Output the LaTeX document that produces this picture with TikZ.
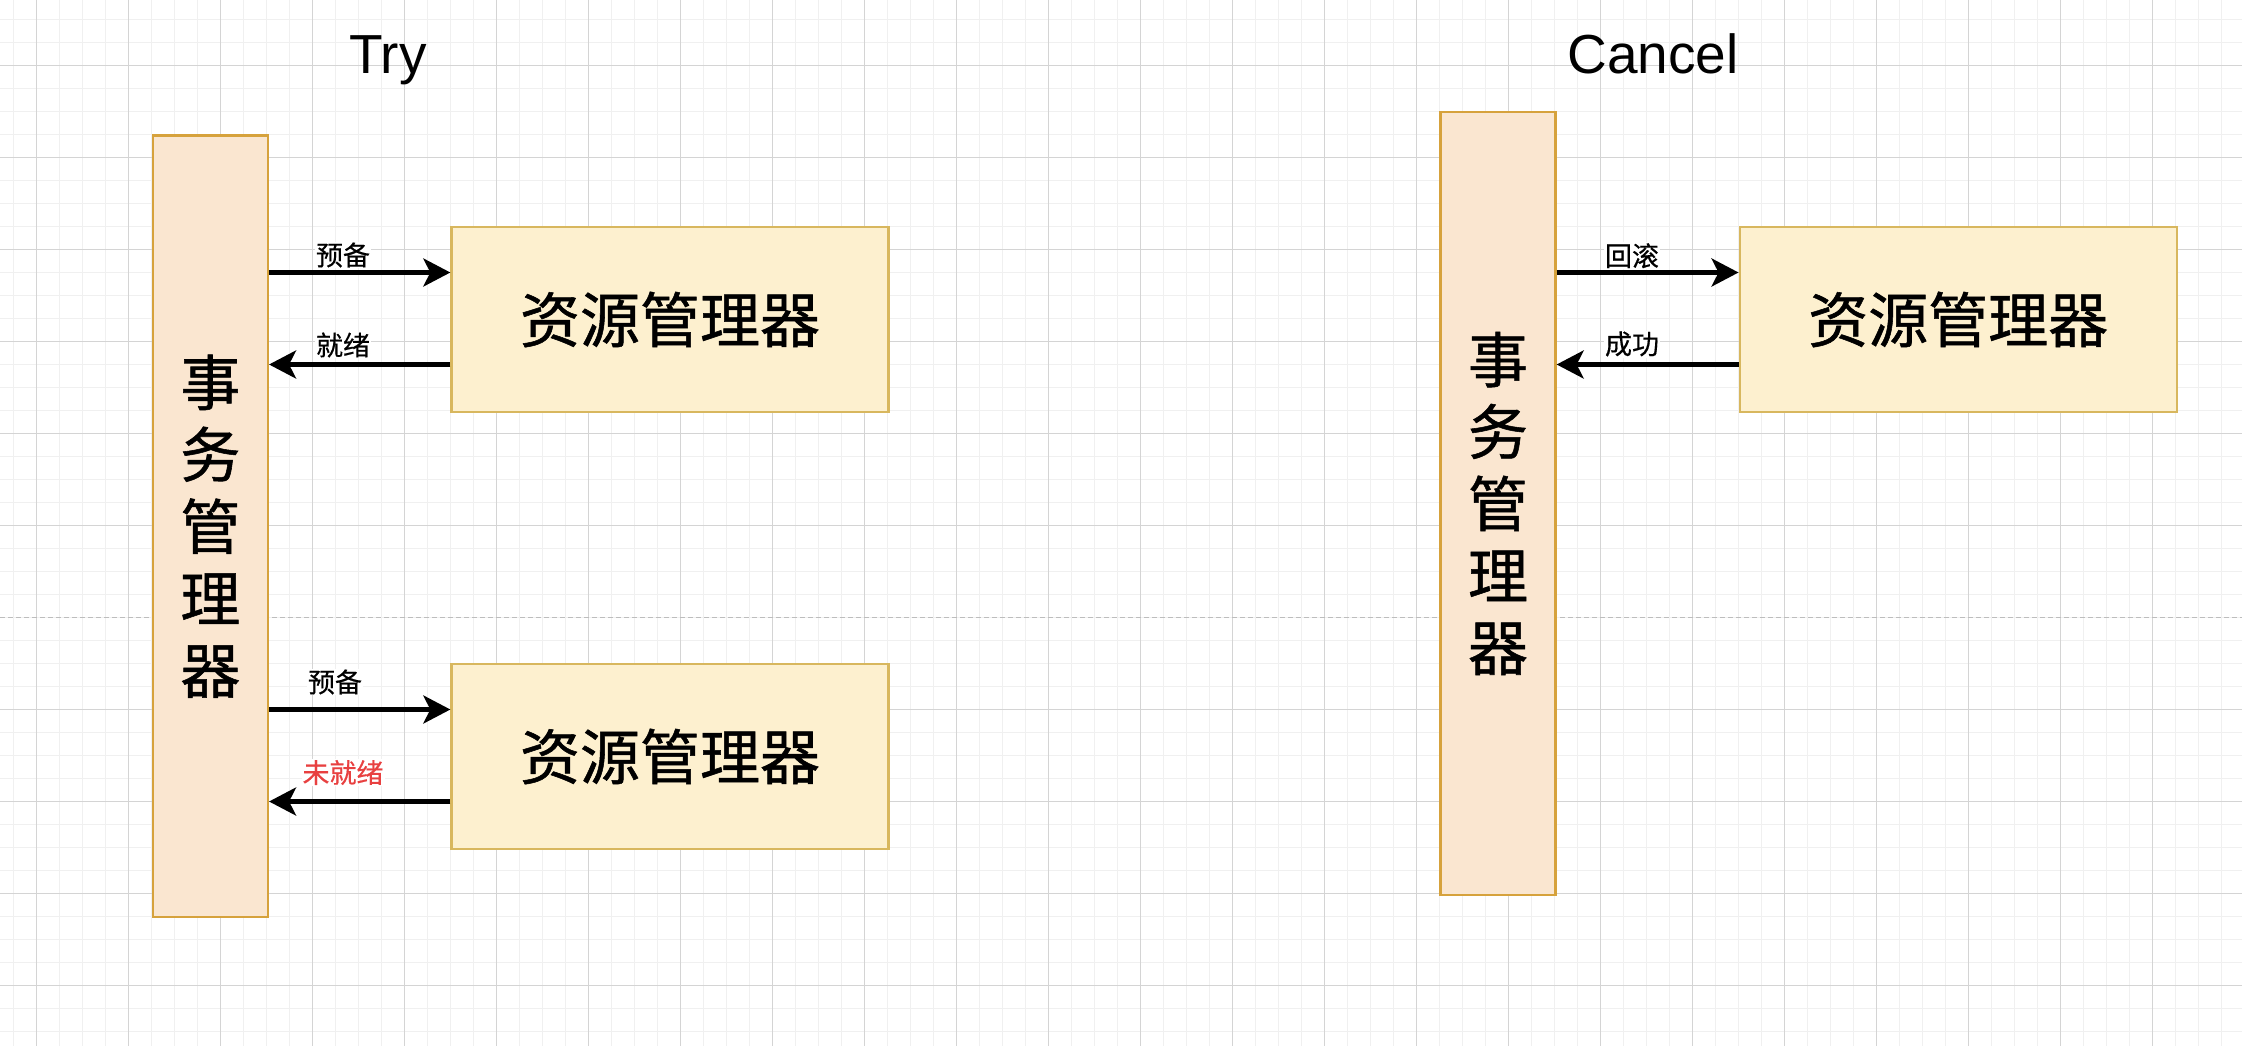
\documentclass[tikz,border=0pt]{standalone}
\usepackage{fontspec}
\setmainfont{Liberation Sans}
\newfontfamily\cjk{Noto Sans CJK SC}[FakeBold=0.9]
\newfontfamily\cjklab{Noto Sans CJK SC}[FakeBold=0.5]
\usetikzlibrary{arrows.meta,calc}
\definecolor{gridminor}{HTML}{F0F0F0}
\definecolor{gridmajor}{HTML}{D4D4D4}
\definecolor{pagebreak}{HTML}{BDBDBD}
\definecolor{tmfill}{HTML}{FAE6D0}
\definecolor{tmdraw}{HTML}{D6A23C}
\definecolor{rmfill}{HTML}{FDF0CF}
\definecolor{rmdraw}{HTML}{D8B75E}
\definecolor{labred}{HTML}{E84040}
\tikzset{
  tmbox/.style={draw=tmdraw, fill=tmfill, line width=2.3pt, inner sep=0pt,
    minimum width=115pt, align=center, font={\cjk\fontsize{60}{72}\selectfont}},
  rmbox/.style={draw=rmdraw, fill=rmfill, line width=2.3pt, inner sep=0pt,
    minimum width=437pt, minimum height=184.4pt, font={\cjk\fontsize{60}{72}\selectfont}},
  arr/.style={line width=4.5pt, -{Stealth[length=27pt,width=28pt,inset=7pt]}},
  lab/.style={font={\cjklab\fontsize{27}{32}\selectfont}, fill=white, inner sep=1pt},
  title/.style={font={\fontsize{55}{66}\selectfont}, anchor=base, inner sep=0pt}
}
\begin{document}
\begin{tikzpicture}[x=1pt,y=-1pt]
\useasboundingbox (0,0) rectangle (2242,1046);
\fill[white] (0,0) rectangle (2242,1046);
% minor grid
\foreach \i in {-1,...,95} \draw[gridminor, line width=1.4pt] (36.2+23*\i,0) -- (36.2+23*\i,1046);
\foreach \j in {-2,...,42} \draw[gridminor, line width=1.4pt] (0,65.3+23*\j) -- (2242,65.3+23*\j);
% major grid
\foreach \i in {0,...,23} \draw[gridmajor, line width=1.3pt] (36.2+92*\i,0) -- (36.2+92*\i,1046);
\foreach \j in {0,...,5,7,8,9,10} \draw[gridmajor, line width=1.3pt] (0,65.3+92*\j) -- (2242,65.3+92*\j);
% page break
\draw[pagebreak, line width=1.3pt, dash pattern=on 5pt off 3pt] (0,617.3) -- (2242,617.3);

% titles
\node[title] (ttry) at (388,74) {Try};
\node[title] (tcancel) at (1653,74) {Cancel};

% boxes
\node[tmbox, minimum height=781.5pt] (tm1) at (210.4,526.3) {事\\务\\管\\理\\器};
\node[rmbox] (rm1) at (670,319.5) {资源管理器};
\node[rmbox] (rm2) at (670,756.5) {资源管理器};
\node[tmbox, minimum height=783pt] (tm2) at (1498,503.5) {事\\务\\管\\理\\器};
\node[rmbox] (rm3) at (1958.2,319.5) {资源管理器};

% labels
\node[lab] (l1) at (343,255) {预备};
\node[lab] (l2) at (343,345) {就绪};
\node[lab] (l3) at (335,682) {预备};
\node[lab, text=labred] (l4) at (343,772.5) {未就绪};
\node[lab] (l5) at (1632,255.7) {回滚};
\node[lab] (l6) at (1632,344) {成功};

% connector anchor points
\coordinate (a1) at ($(rm1.west)+(0,-47)$);
\coordinate (a2) at ($(rm1.west)+(0,45)$);
\coordinate (a3) at ($(rm2.west)+(0,-47)$);
\coordinate (a4) at ($(rm2.west)+(0,45)$);
\coordinate (a5) at ($(rm3.west)+(0,-47)$);
\coordinate (a6) at ($(rm3.west)+(0,45)$);

\draw[arr] (tm1.east |- a1) -- (a1);
\draw[arr] (a2) -- (tm1.east |- a2);
\draw[arr] (tm1.east |- a3) -- (a3);
\draw[arr] (a4) -- (tm1.east |- a4);
\draw[arr] (tm2.east |- a5) -- (a5);
\draw[arr] (a6) -- (tm2.east |- a6);
\end{tikzpicture}
\end{document}
